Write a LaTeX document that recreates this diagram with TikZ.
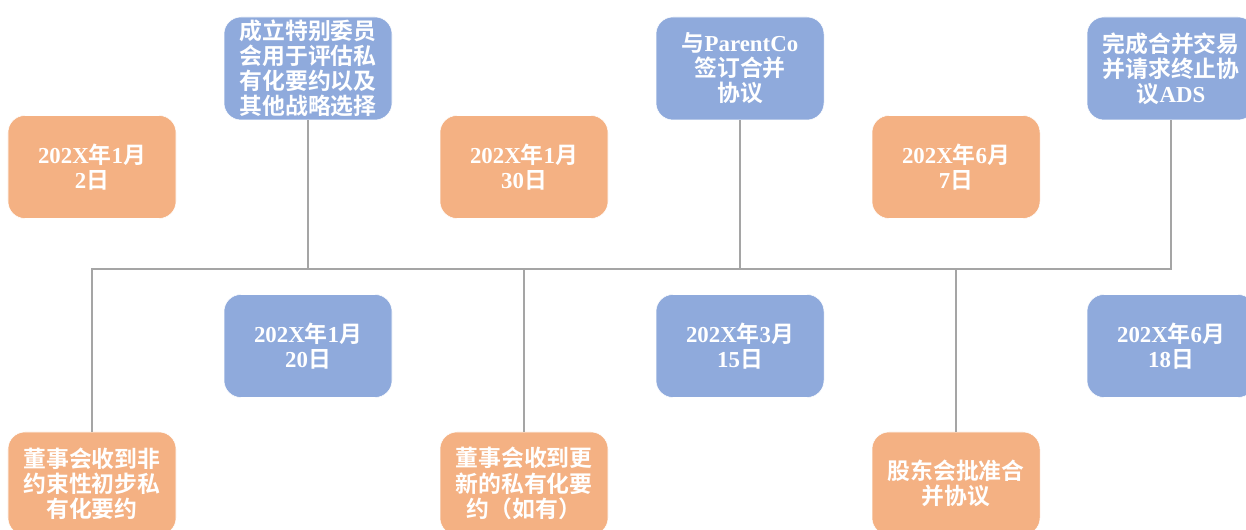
\documentclass[tikz,border=0pt]{standalone}
\usepackage{fontspec}
\setmainfont{Liberation Serif}
\newfontfamily\cjk{Noto Sans CJK SC}[BoldFont={Noto Sans CJK SC Bold}]
\usepackage{xcolor}
\definecolor{peach}{HTML}{F4B183}
\definecolor{cornflower}{HTML}{8FAADC}
\definecolor{axisgray}{HTML}{A5A5A5}
\newcommand{\zh}[1]{{\cjk #1}}

\begin{document}
\begin{tikzpicture}
    [box/.style={rectangle,rounded corners=0.34cm,minimum width=3.36cm,minimum height=2.06cm,inner ysep=1pt,draw=white,line width=0.3pt,text=white,align=center,font=\bfseries\fontsize{13}{14.3}\selectfont},
    evtbox/.style={box,fill=cornflower},
    datebox/.style={box,fill=peach},
    conn/.style={draw=axisgray,line width=0.6pt}]
\useasboundingbox (0,0) rectangle (24.92,10.6);
\coordinate (axis) at (0,5.22);
% upper row
\node[datebox] (d1) at (1.84,7.26) {202X\zh{年}1\zh{月}\\2\zh{日}};
\node[evtbox] (e1) at (6.16,9.23) {\zh{成立特别委员}\\\zh{会用于评估私}\\\zh{有化要约以及}\\\zh{其他战略选择}};
\node[datebox] (d2) at (10.48,7.26) {202X\zh{年}1\zh{月}\\30\zh{日}};
\node[evtbox] (e2) at (14.8,9.23) {\zh{与}ParentCo\\\zh{签订合并}\\\zh{协议}};
\node[datebox] (d3) at (19.12,7.26) {202X\zh{年}6\zh{月}\\7\zh{日}};
\node[evtbox] (e3) at (23.42,9.23) {\zh{完成合并交易}\\\zh{并请求终止协}\\\zh{议}ADS};
% lower row
\node[datebox] (e4) at (1.84,0.93) {\zh{董事会收到非}\\\zh{约束性初步私}\\\zh{有化要约}};
\node[evtbox] (d4) at (6.16,3.68) {202X\zh{年}1\zh{月}\\20\zh{日}};
\node[datebox] (e5) at (10.48,0.93) {\zh{董事会收到更}\\\zh{新的私有化要}\\\zh{约（如有）}};
\node[evtbox] (d5) at (14.8,3.68) {202X\zh{年}3\zh{月}\\15\zh{日}};
\node[datebox] (e6) at (19.12,0.93) {\zh{股东会批准合}\\\zh{并协议}};
\node[evtbox] (d6) at (23.42,3.68) {202X\zh{年}6\zh{月}\\18\zh{日}};
% time axis
\draw[conn] (e4.north) -- (e4.north |- axis) -| (e3.south);
\draw[conn] (e1.south) -- (e1.south |- axis);
\draw[conn] (e2.south) -- (e2.south |- axis);
\draw[conn] (e5.north) -- (e5.north |- axis);
\draw[conn] (e6.north) -- (e6.north |- axis);
\end{tikzpicture}
\end{document}
